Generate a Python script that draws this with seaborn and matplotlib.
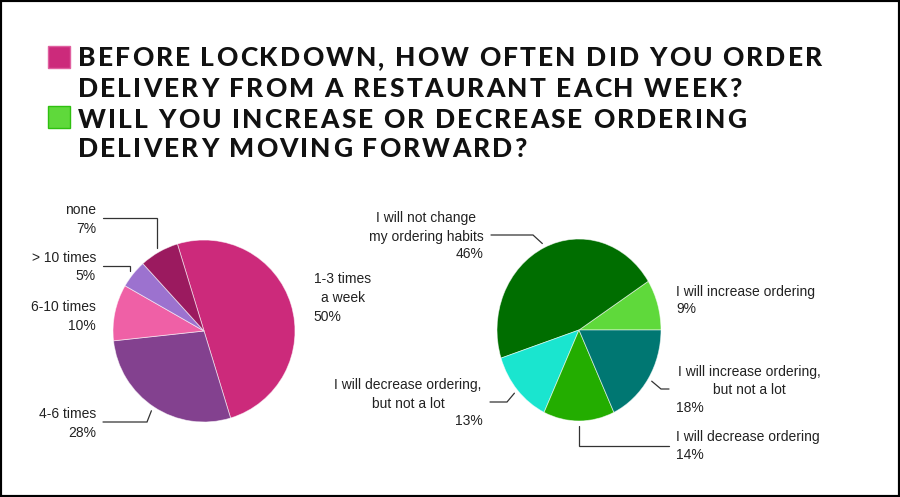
import numpy as np
import matplotlib
matplotlib.use("Agg")
import matplotlib.pyplot as plt
from matplotlib.patches import Rectangle
from matplotlib.font_manager import FontProperties, findfont
from matplotlib.ft2font import FT2Font
import seaborn as sns

# ---- data ----
title_lines = [
    "BEFORE LOCKDOWN, HOW OFTEN DID YOU ORDER",
    "DELIVERY FROM A RESTAURANT EACH WEEK?",
    "WILL YOU INCREASE OR DECREASE ORDERING",
    "DELIVERY MOVING FORWARD?",
]

before_labels = ["1-3 times\na week", "4-6 times", "6-10 times", "> 10 times", "none"]
before_pct = [50, 28, 10, 5, 7]
before_colors = ["#cc2a7b", "#83418f", "#ef60a6", "#9c72cf", "#9b1a5f"]

after_labels = ["I will increase ordering",
                "I will not change\nmy ordering habits",
                "I will decrease ordering,\nbut not a lot",
                "I will decrease ordering",
                "I will increase ordering,\nbut not a lot"]
after_pct = [9, 46, 13, 14, 18]
after_colors = ["#5fd93b", "#006e00", "#1ae5cf", "#23ad00", "#007772"]

# ---- layout (pixel coords, y down) ----
W, H = 900, 497
# name block: (x, y of first line, ha) ; pct: (x, y, ha)
before_layout = [
    ((343, 279, "center"), (313, 317, "left")),
    ((96, 414, "right"), (96, 433, "right")),
    ((96, 307, "right"), (96, 326, "right")),
    ((96, 258, "right"), (96, 276, "right")),
    ((96, 210, "right"), (96, 229, "right")),
]
after_layout = [
    ((676, 292, "left"), (676, 309, "left")),
    ((426, 218, "center"), (483, 254, "right")),
    ((408, 385, "center"), (483, 421, "right")),
    ((676, 437, "left"), (676, 455, "left")),
    ((749, 372, "center"), (676, 408, "left")),
]
# leader lines: fixed points, then tip on the wedge; True = elbow aligned with tip x
before_leaders = {1: ([(103, 422), (147, 422)], False),
                  3: ([(103, 266), (126, 266)], True),
                  4: ([(103, 218), (153, 218)], True)}
after_leaders = {1: ([(491, 235), (533, 235)], False),
                 2: ([(490, 402), (507, 402)], False),
                 3: ([(669, 446), (579, 446)], True),
                 4: ([(669, 389), (661, 389)], False)}

sns.set_theme(style="white")
plt.rcParams["font.family"] = ["Liberation Sans", "DejaVu Sans"]

fig = plt.figure(figsize=(W / 100, H / 100), dpi=100)
fig.patch.set_facecolor("white")


def px_axes(cx, cy, rx, ry):
    return fig.add_axes([(cx - rx) / W, (H - cy - ry) / H, 2 * rx / W, 2 * ry / H])


ax1 = px_axes(204, 331, 91, 91)
w1, _ = ax1.pie(before_pct, colors=sns.color_palette(before_colors), startangle=107,
                counterclock=False, wedgeprops=dict(edgecolor=(1, 1, 1, 0.6), linewidth=0.6))
ax2 = px_axes(579, 330, 82, 91)
w2, _ = ax2.pie(after_pct, colors=sns.color_palette(after_colors), startangle=0,
                counterclock=True, wedgeprops=dict(edgecolor=(1, 1, 1, 0.6), linewidth=0.6))
for a in (ax1, ax2):
    a.set_aspect("auto")
    a.set_xlim(-1, 1)
    a.set_ylim(-1, 1)
    a.axis("off")

ov = fig.add_axes([0, 0, 1, 1])
ov.set_xlim(0, W)
ov.set_ylim(H, 0)
ov.axis("off")

# header squares
ov.add_patch(Rectangle((48, 46), 22, 22, facecolor=before_colors[0], edgecolor="#e060a0", lw=1))
ov.add_patch(Rectangle((48, 106), 22, 22, facecolor=after_colors[0], edgecolor="#2fc010", lw=1))

# header text with letter spacing
hprop = FontProperties(family=["Lato", "DejaVu Sans"], weight=900, size=19)
ft = FT2Font(findfont(hprop))
ft.set_size(19, 100)


def adv(ch):
    return ft.load_char(ord(ch)).linearHoriAdvance / 65536


nat = sum(adv(c) for c in title_lines[0])
track = (744 - nat) / (len(title_lines[0]) - 1)
for line, base in zip(title_lines, [66, 97, 128, 157]):
    x = 78
    for ch in line:
        ov.text(x, base, ch, fontproperties=hprop, color="#111111", ha="left", va="baseline")
        x += adv(ch) + track

lbl_kw = dict(fontsize=10, color="#222222", va="center")


def put_labels(labels, pcts, layout):
    for name, p, ((nx, ny, nha), (px, py, pha)) in zip(labels, pcts, layout):
        for i, part in enumerate(name.split("\n")):
            ov.text(nx, ny + i * 18.5, part, ha=nha, **lbl_kw)
        ov.text(px, py, f"{p}%", ha=pha, **lbl_kw)


def tip(ax, wedge, r=1.05):
    ang = np.deg2rad((wedge.theta1 + wedge.theta2) / 2)
    d = ax.transData.transform((r * np.cos(ang), r * np.sin(ang)))
    return ov.transData.inverted().transform(d)


def put_leaders(ax, wedges, leaders):
    for i, (pts, vert) in leaders.items():
        t = tip(ax, wedges[i])
        pts = [list(p) for p in pts]
        if vert:
            pts[-1][0] = t[0]
        xs = [p[0] for p in pts] + [t[0]]
        ys = [p[1] for p in pts] + [t[1]]
        ov.plot(xs, ys, color="#333333", lw=0.9, solid_joinstyle="miter")


put_labels(before_labels, before_pct, before_layout)
put_labels(after_labels, after_pct, after_layout)
put_leaders(ax1, w1, before_leaders)
put_leaders(ax2, w2, after_leaders)

fig.patches.append(Rectangle((0, 0), 1, 1, transform=fig.transFigure, fill=False,
                             edgecolor="black", lw=3))

fig.savefig("out.png", dpi=100)
